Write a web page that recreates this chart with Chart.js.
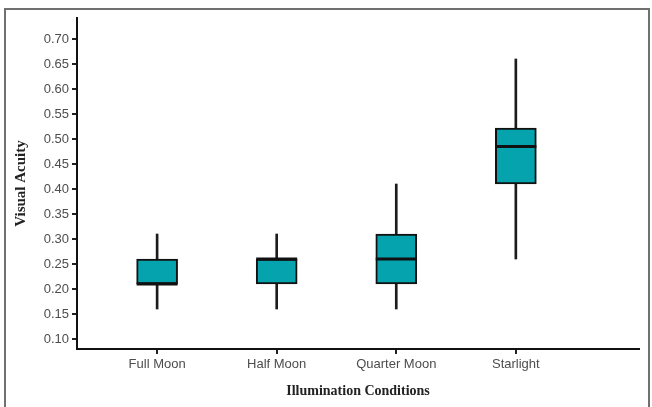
<!DOCTYPE html>
<html>
<head>
<meta charset="utf-8">
<title>Visual Acuity by Illumination</title>
<script src="https://cdn.jsdelivr.net/npm/chart.js@4"></script>
<style>
  html, body { margin: 0; padding: 0; background: #fff; overflow: hidden; }
  #frame {
    position: absolute; left: 4px; top: 8px; width: 646px; height: 420px;
    box-sizing: border-box; border: 2px solid #707070;
  }
  #chart { position: absolute; left: 0; top: 0; }
</style>
</head>
<body>
<div id="frame"></div>
<canvas id="chart" width="652" height="407"></canvas>
<script>
// Data
const categories = ['Full Moon', 'Half Moon', 'Quarter Moon', 'Starlight'];
const minValues = [0.16, 0.16, 0.16, 0.26];
const q1Values = [0.21, 0.21, 0.21, 0.41];
const medianValues = [0.21, 0.26, 0.26, 0.485];
const q3Values = [0.26, 0.26, 0.31, 0.522];
const maxValues = [0.31, 0.31, 0.41, 0.66];
const yTicks = [0.10, 0.15, 0.20, 0.25, 0.30, 0.35, 0.40, 0.45, 0.50, 0.55, 0.60, 0.65, 0.70];

const TEAL = '#04a3ad';
const INK = '#111111';

/**
 * Draw the median line of every box, on top of the boxes.
 */
const medianPlugin = {
  id: 'medianLines',
  afterDatasetsDraw(chart) {
    const { ctx, scales: { x, y } } = chart;
    const boxes = chart.getDatasetMeta(0).data;
    ctx.save();
    ctx.strokeStyle = INK;
    ctx.lineWidth = 3;
    medianValues.forEach((m, i) => {
      const half = boxes[i].width / 2;
      const px = x.getPixelForValue(i);
      const py = y.getPixelForValue(m);
      ctx.beginPath();
      ctx.moveTo(px - half, py);
      ctx.lineTo(px + half, py);
      ctx.stroke();
    });
    ctx.restore();
  },
};

const tickFont = { family: "'Liberation Sans', Arial, sans-serif", size: 13 };
const titleFont = { family: "'Liberation Serif', 'Times New Roman', serif", size: 14, weight: 'bold' };

const createChart = () => {
  new Chart(document.querySelector('#chart'), {
    type: 'bar',
    data: {
      datasets: [
        {
          // boxes: first quartile to third quartile
          data: categories.map((c, i) => ({ x: i, y: [q1Values[i], q3Values[i]] })),
          backgroundColor: TEAL,
          borderColor: INK,
          borderWidth: 2,
          borderSkipped: false,
          barThickness: 41,
          grouped: false,
        },
        {
          // whiskers: min to max, drawn behind the boxes
          data: categories.map((c, i) => ({ x: i, y: [minValues[i], maxValues[i]] })),
          backgroundColor: '#1c1c1c',
          borderWidth: 0,
          barThickness: 2,
          grouped: false,
        },
      ],
    },
    options: {
      responsive: false,
      animation: false,
      layout: { padding: { top: 18, right: 13, left: 0, bottom: 0 } },
      plugins: { legend: { display: false }, tooltip: { enabled: false } },
      scales: {
        x: {
          type: 'linear',
          offset: false,
          min: -0.67,
          max: 4.03,
          afterBuildTicks: (scale) => { scale.ticks = categories.map((c, i) => ({ value: i })); },
          afterFit: (scale) => { scale.height = 58; },
          grid: { offset: false, drawOnChartArea: false, drawTicks: true, tickLength: 5, color: '#222', lineWidth: 2 },
          border: { display: true, color: INK, width: 2 },
          ticks: {
            autoSkip: false,
            maxRotation: 0,
            padding: 3,
            color: '#4d4d4d',
            font: tickFont,
            callback: (value) => categories[value],
          },
          title: {
            display: true,
            text: 'Illumination Conditions',
            color: '#222',
            font: titleFont,
            padding: { top: 4, bottom: 7 },
          },
        },
        y: {
          min: 0.08,
          max: 0.742,
          afterBuildTicks: (scale) => { scale.ticks = yTicks.map(v => ({ value: v })); },
          afterFit: (scale) => { scale.width = 77; },
          grid: { drawOnChartArea: false, drawTicks: true, tickLength: 5, color: '#222', lineWidth: 2 },
          border: { display: true, color: INK, width: 2 },
          ticks: {
            padding: 3,
            color: '#4d4d4d',
            font: tickFont,
            callback: (value) => value.toFixed(2),
          },
          title: {
            display: true,
            text: 'Visual Acuity',
            color: '#222',
            font: { ...titleFont, size: 15 },
            padding: { top: 12, bottom: 4 },
          },
        },
      },
    },
    plugins: [medianPlugin],
  });
};

window.onload = () => {
  createChart();
};
</script>
</body>
</html>
